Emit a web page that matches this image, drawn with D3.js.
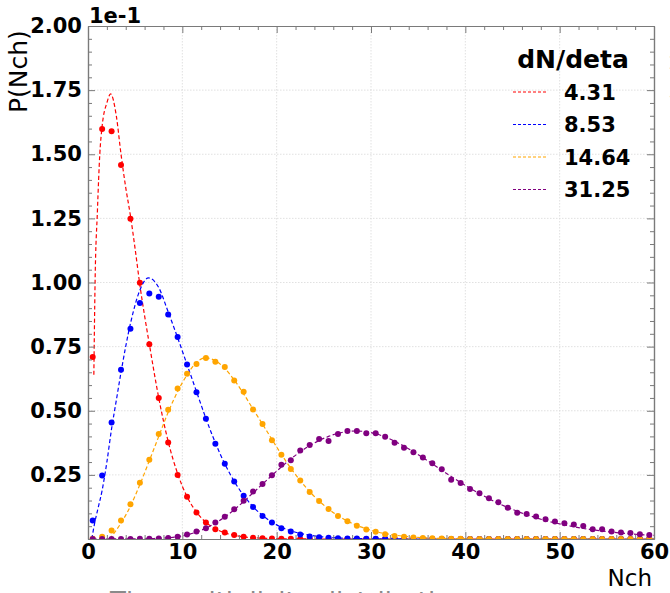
<!DOCTYPE html>
<html>
<head>
<meta charset="utf-8">
<script src="https://cdn.jsdelivr.net/npm/d3@7"></script>
<style>
  body { margin: 0; background: #fff; }
  svg { display: block; font-family: "DejaVu Sans", sans-serif; }
</style>
</head>
<body>
<div id="chart"></div>
<script>
// bin centres (Nch)
var nch = [0.5,1.5,2.5,3.5,4.5,5.5,6.5,7.5,8.5,9.5,10.5,11.5,12.5,13.5,14.5,15.5,16.5,17.5,18.5,19.5,
  20.5,21.5,22.5,23.5,24.5,25.5,26.5,27.5,28.5,29.5,30.5,31.5,32.5,33.5,34.5,35.5,36.5,37.5,38.5,39.5,
  40.5,41.5,42.5,43.5,44.5,45.5,46.5,47.5,48.5,49.5,50.5,51.5,52.5,53.5,54.5,55.5,56.5,57.5,58.5,59.5];

// P(Nch) in units of 1e-1
var red = [0.71,1.598,1.59,1.458,1.249,0.999,0.759,0.55,0.376,0.25,0.165,0.103,0.064,0.038,0.025,0.016,0.009,0.005,0.003,0.002,
  0.001,0.001,0,0,0,0,0,0,0,0,0,0,0,0,0,0,0,0,0,0,
  0,0,0,0,0,0,0,0,0,0,0,0,0,0,0,0,0,0,0,0];
var blue = [0.072,0.248,0.454,0.66,0.82,0.92,0.957,0.944,0.875,0.788,0.68,0.572,0.469,0.371,0.293,0.224,0.169,0.125,0.09,0.064,
  0.042,0.029,0.018,0.01,0.007,0.005,0.003,0.002,0.002,0.001,0.001,0.001,0.001,0.001,0,0,0,0,0,0,
  0,0,0,0,0,0,0,0,0,0,0,0,0,0,0,0,0,0,0,0];
var orange = [0.001,0.009,0.033,0.072,0.135,0.219,0.309,0.409,0.504,0.587,0.644,0.682,0.706,0.691,0.671,0.618,0.574,0.505,0.448,0.385,
  0.328,0.273,0.228,0.183,0.148,0.117,0.09,0.069,0.052,0.037,0.028,0.019,0.012,0.009,0.006,0.004,0.003,0.002,0.001,0.001,
  0,0,0,0,0,0,0,0,0,0,0,0,0,0,0,0,0,0,0,0];
var purple = [0,0,0,0,0,0.001,0.001,0.002,0.004,0.009,0.018,0.029,0.042,0.064,0.087,0.116,0.149,0.185,0.214,0.249,
  0.289,0.307,0.345,0.366,0.39,0.382,0.409,0.421,0.421,0.412,0.412,0.399,0.375,0.356,0.338,0.318,0.295,0.272,0.231,0.218,
  0.195,0.178,0.159,0.143,0.122,0.102,0.097,0.088,0.077,0.068,0.061,0.057,0.051,0.038,0.038,0.029,0.025,0.023,0.019,0.016];

// fitted curves
var redFitX = [0.62,0.75,1,1.25,1.5,2,2.4,3,3.5,4,4.5,5,5.5,6,6.5,7.5,8.5,9.5,10.5,11.5,12.5,13.5,14.5,16,18,20,23,27,60];
var redFitY = [0.64,1.0,1.28,1.5,1.61,1.70,1.735,1.65,1.5,1.37,1.26,1.13,0.99,0.87,0.76,0.55,0.38,0.255,0.165,0.105,0.065,0.04,0.024,0.011,0.004,0.0015,0.0003,0,0];
var blueFitX = [0.4,0.75,1,1.5,2,2.5,3,3.5,4.5,5.5,6.4,7.5,8.5,9.5,10.5,11.5,12.5,13.5,14.5,15.5,16.5,17.5,18.5,19.5,20.5,21.5,22.5,24,26,28,31,35,60];
var blueFitY = [0,0.07,0.11,0.19,0.3,0.43,0.54,0.65,0.84,0.97,1.018,0.98,0.885,0.785,0.68,0.575,0.47,0.375,0.293,0.225,0.17,0.126,0.092,0.066,0.046,0.032,0.022,0.012,0.005,0.002,0.0005,0,0];
var orangeFitX = [2.3,3,3.5,4.5,5.5,6.5,7.5,8.5,9.5,10.5,11.5,12.4,13.5,14.5,15.5,16.5,17.5,18.5,19.5,20.5,21.5,22.5,23.5,24.5,25.5,26.5,27.5,28.5,29.5,30.5,32,34,36,39,43,60];
var orangeFitY = [0,0.035,0.062,0.128,0.212,0.305,0.4,0.494,0.575,0.64,0.688,0.706,0.695,0.665,0.62,0.566,0.506,0.448,0.388,0.33,0.276,0.228,0.185,0.148,0.117,0.091,0.07,0.053,0.04,0.029,0.018,0.009,0.004,0.0015,0.0003,0];
var purpleFitX = [0.5,5,7,8.5,9.5,10.5,11.5,12.5,13.5,14.5,15.5,16.5,17.5,18.5,19.5,20.5,21.5,22.5,23.5,24.5,25.5,26.5,27.5,28.5,29.5,30.5,
  31.5,32.5,33.5,34.5,35.5,36.5,37.5,38.5,39.5,40.5,41.5,42.5,43.5,44.5,45.5,46.5,47.5,48.5,49.5,50.5,51.5,52.5,53.5,54.5,55.5,56.5,57.5,58.5,59.5,60];
var purpleFitY = [0,0.0005,0.002,0.005,0.009,0.016,0.027,0.042,0.062,0.086,0.114,0.146,0.18,0.214,0.248,0.281,0.312,0.34,0.364,0.384,0.4,0.412,0.419,0.421,0.418,0.41,
  0.398,0.381,0.362,0.34,0.317,0.293,0.268,0.244,0.22,0.198,0.177,0.157,0.139,0.123,0.108,0.095,0.083,0.072,0.063,0.055,0.048,0.041,0.036,0.031,0.027,0.023,0.02,0.017,0.015,0.014];

var labels = ["4.31","8.53","14.64","31.25"];
var colors = ["#ff0000","#0000ff","#ffa500","#800080"];

var series = [
  {label: labels[0], color: colors[0], pts: red, fx: redFitX, fy: redFitY},
  {label: labels[1], color: colors[1], pts: blue, fx: blueFitX, fy: blueFitY},
  {label: labels[2], color: colors[2], pts: orange, fx: orangeFitX, fy: orangeFitY},
  {label: labels[3], color: colors[3], pts: purple, fx: purpleFitX, fy: purpleFitY}
];

var width = 670, height = 593;
var plotL = 88, plotR = 654, plotT = 26, plotB = 539;
var axisGrey = "#7a7a7a";

var svg = d3.select("#chart").append("svg")
  .attr("width", width).attr("height", height);

var x = d3.scaleLinear().domain([0, 60]).range([plotL, plotR]);
var y = d3.scaleLinear().domain([0, 2]).range([plotB, plotT]);

var xMajor = [0,10,20,30,40,50,60];
var xMinor = d3.range(0, 61, 2).filter(function(v){ return v % 10 != 0; });
var yMajor = [0,0.25,0.5,0.75,1,1.25,1.5,1.75,2];
var yMinor = d3.range(0, 2.001, 0.05).filter(function(v){ return Math.abs(v*4 - Math.round(v*4)) > 1e-6; });

svg.append("defs").append("clipPath").attr("id", "plot")
  .append("rect").attr("x", plotL).attr("y", plotT)
  .attr("width", plotR - plotL).attr("height", plotB - plotT);

// grid
var grid = svg.append("g").attr("stroke", "#d9d9d9").attr("stroke-dasharray", "1.5,1.5").attr("stroke-width", 0.8);
grid.selectAll(".gx").data(xMajor.slice(1, -1)).enter().append("line")
  .attr("x1", function(d){ return x(d); }).attr("x2", function(d){ return x(d); })
  .attr("y1", plotT).attr("y2", plotB);
grid.selectAll(".gy").data(yMajor.slice(1, -1)).enter().append("line")
  .attr("y1", function(d){ return y(d); }).attr("y2", function(d){ return y(d); })
  .attr("x1", plotL).attr("x2", plotR);

// data
var plot = svg.append("g").attr("clip-path", "url(#plot)");
var line = d3.line().curve(d3.curveMonotoneX);

series.forEach(function(s){
  plot.append("g").selectAll("circle")
    .data(s.pts).enter().append("circle")
      .attr("cx", function(d, i){ return x(nch[i]); })
      .attr("cy", function(d){ return y(d); })
      .attr("r", 3)
      .attr("fill", s.color);
  plot.append("path")
    .attr("d", line(s.fx.map(function(v, i){ return [x(v), y(s.fy[i])]; })))
    .attr("fill", "none")
    .attr("stroke", s.color)
    .attr("stroke-width", 1.2)
    .attr("stroke-dasharray", "4,2.5");
});

// axes, ticks pointing inwards on all four sides
function styleAxis(g) {
  g.selectAll(".domain").attr("stroke", axisGrey).attr("stroke-width", 1.2);
  g.selectAll(".tick line").attr("stroke", axisGrey).attr("stroke-width", 1);
  g.selectAll("text").attr("fill", "#000").style("font-size", "21px").style("font-weight", "bold")
    .style("font-family", "'DejaVu Sans', sans-serif");
}

svg.append("g").attr("transform", "translate(0," + plotB + ")")
  .call(d3.axisBottom(x).tickValues(xMinor).tickSize(-4).tickSizeOuter(0).tickFormat(""))
  .call(styleAxis);
svg.append("g").attr("transform", "translate(0," + plotB + ")")
  .call(d3.axisBottom(x).tickValues(xMajor).tickSize(-7).tickSizeOuter(0).tickPadding(5).tickFormat(d3.format("d")))
  .call(styleAxis);
svg.append("g").attr("transform", "translate(0," + plotT + ")")
  .call(d3.axisTop(x).tickValues(xMinor).tickSize(-4).tickSizeOuter(0).tickFormat(""))
  .call(styleAxis);
svg.append("g").attr("transform", "translate(0," + plotT + ")")
  .call(d3.axisTop(x).tickValues(xMajor).tickSize(-7).tickSizeOuter(0).tickFormat(""))
  .call(styleAxis);

// the 0.00 label is not printed on the y axis
svg.append("g").attr("transform", "translate(" + plotL + ",0)")
  .call(d3.axisLeft(y).tickValues(yMinor).tickSize(-4).tickSizeOuter(0).tickFormat(""))
  .call(styleAxis);
svg.append("g").attr("transform", "translate(" + plotL + ",0)")
  .call(d3.axisLeft(y).tickValues(yMajor).tickSize(-7).tickSizeOuter(0).tickPadding(6)
    .tickFormat(function(d){ return d === 0 ? "" : d3.format(".2f")(d); }))
  .call(styleAxis);
svg.append("g").attr("transform", "translate(" + plotR + ",0)")
  .call(d3.axisRight(y).tickValues(yMinor).tickSize(-4).tickSizeOuter(0).tickFormat(""))
  .call(styleAxis);
svg.append("g").attr("transform", "translate(" + plotR + ",0)")
  .call(d3.axisRight(y).tickValues(yMajor).tickSize(-7).tickSizeOuter(0).tickFormat(""))
  .call(styleAxis);

// axis labels
svg.append("text").attr("x", 89).attr("y", 23)
  .style("font-size", "21px").style("font-weight", "bold").text("1e-1");
svg.append("text")
  .attr("transform", "translate(27,113) rotate(-90)")
  .style("font-size", "25px").text("P(Nch)");
svg.append("text").attr("x", 652).attr("y", 586).attr("text-anchor", "end")
  .style("font-size", "23px").text("Nch");

// legend
var legend = svg.append("g");
legend.append("text").attr("x", 573).attr("y", 68).attr("text-anchor", "middle")
  .style("font-size", "25px").style("font-weight", "bold").text("dN/deta");
var rows = legend.selectAll(".row").data(series).enter().append("g")
  .attr("transform", function(d, i){ return "translate(0," + (92 + i * 32.5) + ")"; });
rows.append("line").attr("x1", 513).attr("x2", 546).attr("y1", 0).attr("y2", 0)
  .attr("stroke", function(d){ return d.color; }).attr("stroke-width", 1.2)
  .attr("stroke-dasharray", "3,2");
rows.append("text").attr("x", 564).attr("y", 0).attr("dy", "0.36em")
  .style("font-size", "21px").style("font-weight", "bold")
  .text(function(d){ return d.label; });

// bits of the neighbouring figure that are cut off by the frame
svg.append("text").attr("x", 110).attr("y", 611)
  .style("font-size", "26px").attr("fill", "#8a8a8a")
  .text("The multiplicity distributions");
svg.append("text")
  .attr("transform", "translate(684,112) rotate(-90)")
  .style("font-size", "18px").attr("fill", "#9a9a9a").text("P(Nch)");
</script>
</body>
</html>
